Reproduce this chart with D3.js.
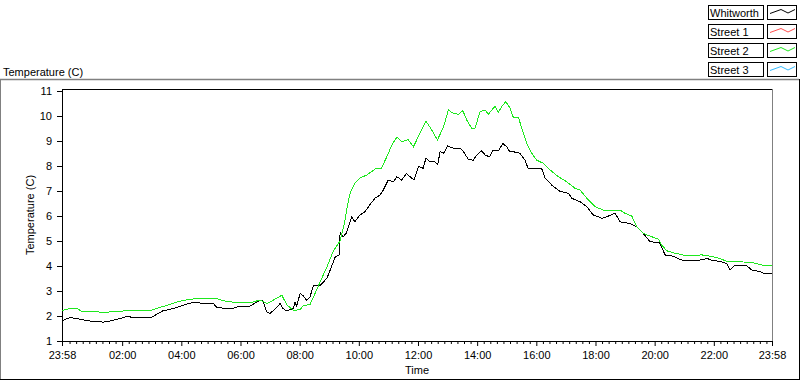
<!DOCTYPE html>
<html>
<head>
<meta charset="utf-8">
<script src="https://cdn.jsdelivr.net/npm/d3@7"></script>
<style>
  body { margin: 0; background: #fff; }
  svg { display: block; font-family: "Liberation Sans", Arial, sans-serif; font-size: 11px; }
  .axis text { font-family: "Liberation Sans", Arial, sans-serif; font-size: 11px; fill: #000; }
  .axis line, .axis path { stroke: #000; }
</style>
</head>
<body>
<div id="chart-area"></div>
<script>

// legend entries (Street 1 and Street 3 have no plotted data)
var seriesNames = ["Whitworth", "Street 1", "Street 2", "Street 3"];
var seriesColors = ["#000000", "#ff4d4d", "#1ee81e", "#33bbff"];

// hours after 23:58, temperature in C
var whitworthHours = [0, 0.27, 0.61, 0.95, 1.2, 1.39, 1.7, 2.07, 2.2, 2.4, 3.0, 3.1, 3.4, 3.76, 4.1, 4.43, 4.67, 5.1, 5.24, 5.57, 5.78, 6.0, 6.36, 6.69, 6.78, 6.92, 7.03, 7.26, 7.37, 7.47, 7.6, 7.7, 7.82, 7.88, 7.93, 8.05, 8.16, 8.27, 8.38, 8.5, 8.72, 8.95, 9.06, 9.23, 9.38, 9.4, 9.51, 9.62, 9.79, 9.9, 10.07, 10.24, 10.4, 10.58, 10.75, 10.86, 11.03, 11.2, 11.32, 11.48, 11.65, 11.82, 11.9, 12.05, 12.21, 12.3, 12.44, 12.6, 12.7, 12.78, 12.9, 13.04, 13.23, 13.46, 13.57, 13.74, 13.9, 14.02, 14.19, 14.3, 14.45, 14.58, 14.75, 14.9, 15.03, 15.14, 15.26, 15.48, 15.65, 15.76, 15.93, 16.22, 16.33, 16.5, 16.55, 16.84, 17.12, 17.23, 17.51, 17.74, 17.96, 18.25, 18.41, 18.7, 18.86, 19.2, 19.43, 19.65, 19.88, 20.2, 20.39, 20.55, 20.95, 21.57, 21.8, 22.0, 22.25, 22.47, 22.58, 22.75, 23.15, 23.32, 23.6, 23.77, 24.0];
var whitworthTemps = [1.81, 1.94, 1.87, 1.8, 1.8, 1.75, 1.82, 1.93, 2.0, 1.93, 1.93, 2.0, 2.2, 2.3, 2.43, 2.55, 2.52, 2.52, 2.34, 2.3, 2.3, 2.4, 2.4, 2.63, 2.63, 2.16, 2.1, 2.34, 2.5, 2.3, 2.2, 2.25, 2.3, 2.56, 2.4, 2.9, 2.8, 2.63, 2.76, 3.22, 3.22, 3.5, 3.82, 4.35, 4.45, 5.33, 5.17, 5.33, 5.97, 5.77, 6.04, 6.17, 6.44, 6.71, 6.84, 7.04, 7.44, 7.37, 7.57, 7.44, 7.7, 7.51, 7.44, 7.98, 7.91, 8.31, 8.17, 8.17, 8.06, 8.57, 8.51, 8.8, 8.71, 8.71, 8.57, 8.26, 8.23, 8.44, 8.61, 8.44, 8.37, 8.64, 8.61, 8.9, 8.77, 8.57, 8.57, 8.51, 8.23, 7.9, 7.9, 7.88, 7.51, 7.31, 7.24, 6.98, 6.91, 6.71, 6.57, 6.37, 6.04, 5.91, 5.97, 6.11, 5.77, 5.7, 5.57, 5.3, 4.97, 4.93, 4.44, 4.44, 4.24, 4.24, 4.3, 4.22, 4.18, 4.1, 3.84, 4.04, 4.0, 3.84, 3.77, 3.68, 3.7];

var street2Hours = [0, 0.27, 0.5, 0.65, 1.2, 1.3, 1.5, 1.7, 2.07, 2.5, 3.0, 3.2, 3.55, 3.9, 4.2, 4.55, 5.2, 5.57, 6.0, 6.36, 6.7, 6.92, 7.14, 7.43, 7.6, 7.82, 8.05, 8.16, 8.38, 8.5, 8.72, 8.95, 9.17, 9.4, 9.57, 9.62, 9.74, 9.9, 10.07, 10.3, 10.64, 10.8, 10.98, 11.15, 11.32, 11.48, 11.7, 11.88, 12.1, 12.3, 12.5, 12.69, 12.9, 13.06, 13.23, 13.4, 13.55, 13.68, 13.85, 13.96, 14.13, 14.3, 14.41, 14.64, 14.75, 14.86, 15.0, 15.14, 15.26, 15.43, 15.54, 15.71, 15.88, 16.05, 16.27, 16.5, 16.78, 17.06, 17.34, 17.51, 17.74, 18.02, 18.3, 18.86, 19.03, 19.26, 19.43, 19.65, 19.94, 20.16, 20.27, 20.44, 20.66, 21.0, 21.57, 21.6, 21.65, 21.96, 22.25, 22.47, 22.81, 23.37, 23.65, 24.0];
var street2Temps = [2.22, 2.3, 2.3, 2.2, 2.2, 2.13, 2.13, 2.2, 2.2, 2.22, 2.22, 2.3, 2.43, 2.57, 2.64, 2.7, 2.7, 2.58, 2.53, 2.53, 2.64, 2.5, 2.63, 2.83, 2.45, 2.23, 2.25, 2.43, 2.45, 2.76, 3.35, 3.95, 4.6, 5.0, 5.84, 6.24, 6.92, 7.32, 7.52, 7.64, 7.92, 7.92, 8.37, 8.84, 9.16, 8.97, 9.06, 8.77, 9.31, 9.8, 9.44, 9.04, 9.57, 10.24, 10.1, 10.07, 10.21, 9.84, 9.51, 9.51, 10.17, 10.24, 10.07, 10.4, 10.14, 10.37, 10.58, 10.32, 9.93, 9.94, 9.51, 8.9, 8.51, 8.23, 8.11, 7.84, 7.57, 7.37, 7.11, 7.04, 6.71, 6.37, 6.24, 6.24, 6.11, 6.0, 5.57, 5.3, 5.17, 5.07, 4.84, 4.61, 4.53, 4.44, 4.44, 4.49, 4.44, 4.38, 4.3, 4.18, 4.18, 4.13, 4.04, 4.04];

var street1Hours = [], street1Temps = [];
var street3Hours = [], street3Temps = [];

var tempTicks = [1, 2, 3, 4, 5, 6, 7, 8, 9, 10, 11];
var timeTickLabels = ["23:58", "02:00", "04:00", "06:00", "08:00", "10:00", "12:00", "14:00", "16:00", "18:00", "20:00", "22:00", "23:58"];

var margin = { left: 62, right: 28, top: 89, bottom: 39 };
var width = 800 - margin.left - margin.right,
    height = 380 - margin.top - margin.bottom;

var svg = d3.select("#chart-area")
    .append("svg")
        .attr("width", 800)
        .attr("height", 380);

// outer panel frame
svg.append("line").attr("x1", 0).attr("y1", 79.5).attr("x2", 799).attr("y2", 79.5)
    .attr("stroke", "#808080").attr("stroke-width", 1.5);
svg.append("line").attr("x1", 0.5).attr("y1", 79).attr("x2", 0.5).attr("y2", 380)
    .attr("stroke", "#808080");
svg.append("line").attr("x1", 799.5).attr("y1", 79).attr("x2", 799.5).attr("y2", 380)
    .attr("stroke", "#000");
svg.append("line").attr("x1", 0).attr("y1", 379.5).attr("x2", 800).attr("y2", 379.5)
    .attr("stroke", "#000");

svg.append("text")
    .attr("x", 3)
    .attr("y", 76)
    .text("Temperature (C)");

var start = new Date(2000, 0, 1, 23, 58);
var end = new Date(2000, 0, 2, 23, 58);
function atHour(h) { return new Date(start.getTime() + h * 3600000); }

var x = d3.scaleTime()
    .domain([start, end])
    .range([0, width]);

var y = d3.scaleLinear()
    .domain([1, 11])
    .range([height, 2]);

var g = svg.append("g")
    .attr("transform", "translate(" + margin.left + ", " + margin.top + ")");

// plot border
g.append("line").attr("x1", 0).attr("y1", 0.5).attr("x2", width).attr("y2", 0.5).attr("stroke", "#000");
g.append("line").attr("x1", 0.5).attr("y1", 0).attr("x2", 0.5).attr("y2", height).attr("stroke", "#000");
g.append("line").attr("x1", width + 0.5).attr("y1", 0).attr("x2", width + 0.5).attr("y2", height).attr("stroke", "#808080");

// series
var allSeries = [
    { hours: whitworthHours, temps: whitworthTemps },
    { hours: street1Hours, temps: street1Temps },
    { hours: street2Hours, temps: street2Temps },
    { hours: street3Hours, temps: street3Temps }
];

var line = d3.line()
    .x(function(d) { return x(d.t); })
    .y(function(d) { return y(d.v); });

allSeries.forEach(function(s, i) {
    var pts = s.hours.map(function(h, j) { return { t: atHour(h), v: s.temps[j] }; });
    if (!pts.length) return;
    g.append("path")
        .datum(pts)
        .attr("fill", "none")
        .attr("stroke", seriesColors[i])
        .attr("stroke-width", 1)
        .attr("shape-rendering", "crispEdges")
        .attr("d", line);
});

// X axis
var majorDates = timeTickLabels.map(function(lbl, i) {
    if (i === 0) return start;
    if (i === timeTickLabels.length - 1) return end;
    var p = lbl.split(":");
    return new Date(2000, 0, 2, +p[0], +p[1]);
});

var minorDates = [];
for (var m = 0; m <= 24 * 60; m += 40 / 3) {
    var dt = new Date(2000, 0, 2, 0, 0, 0, Math.round(m * 60000));
    if (dt > end) break;
    if (Math.round(m) % 120 === 0) continue;
    minorDates.push(dt);
}

g.append("g")
    .attr("class", "x axis")
    .attr("transform", "translate(0," + height + ")")
    .call(d3.axisBottom(x).tickValues(minorDates).tickSize(3).tickSizeOuter(0).tickFormat(""))
    .select(".domain").remove();

g.append("g")
    .attr("class", "x axis")
    .attr("transform", "translate(0," + height + ")")
    .call(d3.axisBottom(x)
        .tickValues(majorDates)
        .tickSize(5)
        .tickSizeOuter(0)
        .tickPadding(5)
        .tickFormat(function(d, i) { return timeTickLabels[i]; }));

// Y axis
g.append("g")
    .attr("class", "y axis")
    .call(d3.axisLeft(y)
        .tickValues(tempTicks)
        .tickSize(5)
        .tickPadding(5)
        .tickFormat(function(d) { return +d; }))
    .select(".domain").remove();

g.append("text")
    .attr("transform", "rotate(-90)")
    .attr("x", -height / 2)
    .attr("y", -28)
    .attr("text-anchor", "middle")
    .text("Temperature (C)");

g.append("text")
    .attr("x", width / 2)
    .attr("y", height + 33)
    .attr("text-anchor", "middle")
    .text("Time");

// legend
var legend = svg.append("g")
    .attr("transform", "translate(708, 5)");

seriesNames.forEach(function(name, i) {
    var row = legend.append("g")
        .attr("transform", "translate(0, " + (i * 19) + ")");

    row.append("rect")
        .attr("x", 0.5).attr("y", 0.5)
        .attr("width", 55).attr("height", 14)
        .attr("fill", "#fff")
        .attr("stroke", "#000");

    row.append("text")
        .attr("x", 2)
        .attr("y", 12)
        .text(name);

    row.append("rect")
        .attr("x", 59.5).attr("y", 0.5)
        .attr("width", 29).attr("height", 14)
        .attr("fill", "#fff")
        .attr("stroke", "#000");

    row.append("polyline")
        .attr("points", "62,8.5 73,4.5 80,8 87,4.5")
        .attr("fill", "none")
        .attr("stroke", seriesColors[i]);
});

</script>
</body>
</html>
